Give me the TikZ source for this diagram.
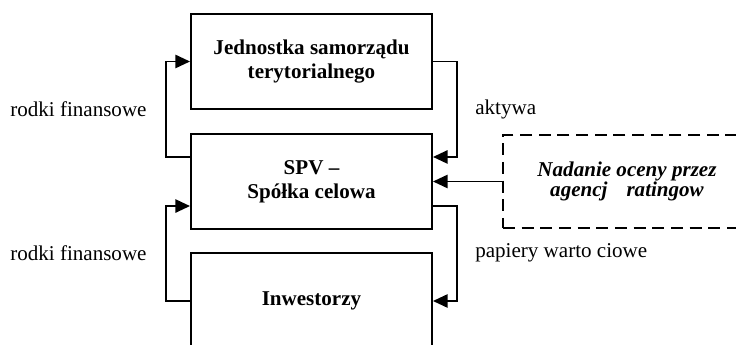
\documentclass[tikz,border=0pt]{standalone}
\usepackage{fontspec}
\setmainfont{Liberation Serif}
\usetikzlibrary{arrows.meta,positioning}
\tikzset{
  box/.style={draw,line width=1.5pt,minimum width=180.75pt,minimum height=71.25pt,
              align=center,inner sep=0pt,font=\bfseries\fontsize{15.8}{18}\selectfont},
  rate/.style={box,dashed,dash pattern=on 9pt off 5pt,minimum width=186pt,minimum height=69.75pt,
               font=\bfseries\itshape\fontsize{15.8}{15.5}\selectfont},
  arr/.style={-{Triangle[length=11pt,width=10pt]},line width=1.3pt},
  lbl/.style={anchor=west,inner sep=0pt,font=\fontsize{15.8}{18}\selectfont}
}
\begin{document}
\begin{tikzpicture}[x=0.75pt,y=-0.75pt]
  \useasboundingbox (0,0) rectangle (736,345);
  \clip (0,0) rectangle (736,345);
  % main boxes
  \node[box] (jst) at (311.5,61.5) {Jednostka samorządu\\terytorialnego};
  \node[box] (spv) at (311.5,181.5) {SPV --\\Spółka celowa};
  \node[box,minimum height=72pt] (inv) at (311.5,301) {Inwestorzy};
  \node[rate] (rat) at (627,181.5) {Nadanie oceny przez\\agencj\hspace{0.9em}ratingow};
  % flows
  \draw[arr] ([yshift=18.4pt]spv.west) -- ++(-18pt,0) |- (jst.west);
  \draw[arr] (jst.east) -- ++(18pt,0) |- ([yshift=18.4pt]spv.east);
  \draw[arr] (rat.west) -- (spv.east);
  \draw[arr] ([yshift=-18.4pt]spv.east) -- ++(18pt,0) |- (inv.east);
  \draw[arr] (inv.west) -- ++(-18pt,0) |- ([yshift=-18.4pt]spv.west);
  % labels
  \node[lbl] (l1) at (10,109) {rodki finansowe};
  \node[lbl] (l2) at (10,253) {rodki finansowe};
  \node[lbl] (l3) at (475,109) {aktywa};
  \node[lbl] (l4) at (475,253) {papiery warto ciowe};
\end{tikzpicture}
\end{document}
